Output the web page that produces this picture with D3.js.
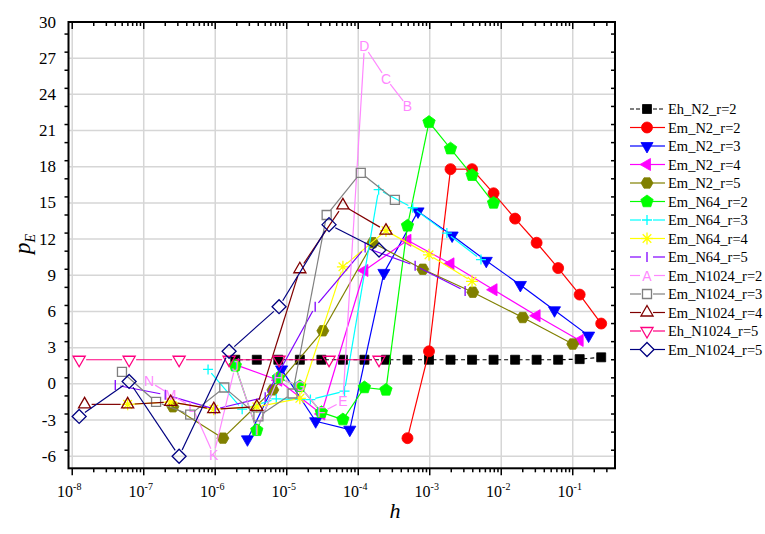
<!DOCTYPE html>
<html><head><meta charset="utf-8">
<script src="https://cdn.jsdelivr.net/npm/d3@7"></script>
<style>body{margin:0;background:#fff}svg{display:block}
.sf{font-family:"Liberation Serif","Times New Roman",Times,"DejaVu Serif",serif}</style>
</head><body><svg id="c" width="765" height="534"></svg>
<script>
// ---------- data ----------
const seriesNames = ["Eh_N2_r=2","Em_N2_r=2","Em_N2_r=3","Em_N2_r=4","Em_N2_r=5","Em_N64_r=2","Em_N64_r=3","Em_N64_r=4","Em_N64_r=5","Em_N1024_r=2","Em_N1024_r=3","Em_N1024_r=4","Eh_N1024_r=5","Em_N1024_r=5"];
const hEhN2r2 = [0.25,0.125,0.0625,0.03125,0.015625,0.0078125,0.00390625,0.001953125,9.765625e-4,4.8828125e-4,2.44140625e-4,1.2207031e-4,6.1035156e-5,3.0517578e-5,1.5258789e-5,7.6293945e-6,3.8146973e-6,1.9073486e-6];
const pEhN2r2 = [2.2,2.05,2,2,2,2,2,2,2,2,2,2,2,2,2,2,2,2];
const hEmN2r2 = [0.25,0.125,0.0625,0.03125,0.015625,0.0078125,0.00390625,0.001953125,9.765625e-4,4.8828125e-4];
const pEmN2r2 = [5.0,7.4,9.6,11.7,13.7,15.8,17.8,17.8,2.7,-4.5];
const hEmN2r3 = [0.16667,0.055556,0.0185185,0.0061728,0.0020576,6.8587e-4,2.2862e-4,7.6208e-5,2.5403e-5,8.4675e-6,2.8225e-6];
const pEmN2r3 = [4.0,6.1,8.2,10.2,12.3,14.3,9.2,-3.8,-3.1,1.2,-4.6];
const hEmN2r4 = [0.125,0.03125,7.8125e-3,1.953125e-3,4.8828e-4,1.2207e-4,3.0518e-5,7.6294e-6,1.9073e-6];
const pEmN2r4 = [3.6,5.65,7.8,9.95,11.9,9.4,-2.5,0.3,1.6];
const hEmN2r5 = [0.1,0.02,0.004,8e-4,1.6e-4,3.2e-5,6.4e-6,1.28e-6,2.56e-7];
const pEmN2r5 = [3.3,5.5,7.6,9.5,11.7,4.4,-0.5,-4.5,-1.9];
const hEmN64r2 = [7.8125e-3,3.90625e-3,1.953125e-3,9.765625e-4,4.8828125e-4,2.4414e-4,1.2207e-4,6.1035e-5,3.0518e-5,1.5259e-5,7.6294e-6,3.8147e-6,1.9073e-6];
const pEmN64r2 = [15.0,17.3,19.5,21.7,13.1,-0.5,-0.3,-2.96,-2.36,-0.2,0.5,-3.85,1.5];
const hEmN64r3 = [5.2083e-3,1.7361e-3,5.787e-4,1.929e-4,6.43e-5,2.1433e-5,7.144e-6,2.3815e-6,7.938e-7];
const pEmN64r3 = [10.3,12.5,14.6,16.1,-0.6,-1.3,-1.25,-2.1,1.2];
const hEmN64r4 = [3.90625e-3,9.765625e-4,2.4414e-4,6.1035e-5,1.5259e-5,3.8147e-6,9.5367e-7,2.3842e-7,5.9605e-8];
const pEmN64r4 = [8.5,10.7,12.7,9.7,-1.2,-1.9,-2.1,-1.5,-1.7];
const hEmN64r5 = [3.125e-3,6.25e-4,1.25e-4,2.5e-5,5e-6,1e-6,2e-7,4e-8];
const pEmN64r5 = [7.7,9.8,11.3,6.4,-1.1,-2.1,-0.9,-0.1];
const hEmN1024r2 = [4.8828125e-4,2.4414e-4,1.2207e-4,6.1035e-5,3.0518e-5,1.5259e-5,7.6294e-6,3.8147e-6,1.9073e-6,9.5367e-7,4.7684e-7,2.3842e-7,1.1921e-7];
const pEmN1024r2 = [23.0,25.3,28.0,-1.45,-2.36,-0.2,0.5,-3.85,1.5,-5.9,-1.9,-0.9,0.2];
const lEmN1024r2 = ["B","C","D","E","F","G","H","I","J","K","L","M","N"];
const hEmN1024r3 = [3.2552e-4,1.0851e-4,3.6169e-5,1.2056e-5,4.0188e-6,1.3396e-6,4.4653e-7,1.4884e-7,4.9614e-8];
const pEmN1024r3 = [15.25,17.5,14.0,-0.8,-2.7,-0.3,-2.55,-1.5,1.0];
const hEmN1024r4 = [2.4414e-4,6.1035e-5,1.5259e-5,3.8147e-6,9.5367e-7,2.3842e-7,5.9605e-8,1.4901e-8];
const pEmN1024r4 = [12.7,14.8,9.5,-1.9,-2.1,-1.5,-1.7,-1.7];
const hEhN1024r5 = [1.953125e-4,3.90625e-5,7.8125e-6,1.5625e-6,3.125e-7,6.25e-8,1.25e-8];
const pEhN1024r5 = [2,2,2,2,2,2,2];
const hEmN1024r5 = [1.953125e-4,3.90625e-5,7.8125e-6,1.5625e-6,3.125e-7,6.25e-8,1.25e-8];
const pEmN1024r5 = [11.1,13.2,6.4,2.7,-6.0,0.2,-2.7];
const yTicks = [-6,-3,0,3,6,9,12,15,18,21,24,27,30];
const xTickExps = [-8,-7,-6,-5,-4,-3,-2,-1];

// ---------- styles ----------
const styles = [
 {c:"#000000", m:"square", fill:true, dash:"4,3"},
 {c:"#ff0000", m:"circle", fill:true},
 {c:"#0000ff", m:"tdown", fill:true},
 {c:"#ff00ff", m:"tleft", fill:true},
 {c:"#808000", m:"hex", fill:true},
 {c:"#00ff00", m:"pent", fill:true},
 {c:"#00ffff", m:"plus", fill:false, gap:5},
 {c:"#ffff00", m:"star", fill:false, gap:5},
 {c:"#8000ff", m:"bar", fill:false, gap:5},
 {c:"#ff88ff", m:"letter", fill:false, gap:7},
 {c:"#808080", m:"square", fill:false, gap:6},
 {c:"#800000", m:"tup", fill:false, gap:7},
 {c:"#ff0080", m:"tdown", fill:false, gap:7},
 {c:"#000080", m:"diamond", fill:false, gap:7}
];
const hs = [hEhN2r2,hEmN2r2,hEmN2r3,hEmN2r4,hEmN2r5,hEmN64r2,hEmN64r3,hEmN64r4,hEmN64r5,hEmN1024r2,hEmN1024r3,hEmN1024r4,hEhN1024r5,hEmN1024r5];
const ps = [pEhN2r2,pEmN2r2,pEmN2r3,pEmN2r4,pEmN2r5,pEmN64r2,pEmN64r3,pEmN64r4,pEmN64r5,pEmN1024r2,pEmN1024r3,pEmN1024r4,pEhN1024r5,pEmN1024r5];

const svg = d3.select("#c");
const L = 68.5, R = 615, T = 22, B = 468.3;
const x = d3.scaleLog().domain([8.87e-9, 0.39]).range([L, R]);
const y = d3.scaleLinear().domain([-7, 30]).range([B, T]);

// grid
const g = svg.append("g");
xTickExps.forEach(e => g.append("line").attr("x1", x(Math.pow(10,e))).attr("x2", x(Math.pow(10,e)))
  .attr("y1", T).attr("y2", B).attr("stroke", "#d6d6d6").attr("stroke-width", 1.5));
yTicks.forEach(v => g.append("line").attr("x1", L).attr("x2", R).attr("y1", y(v)).attr("y2", y(v))
  .attr("stroke", "#d6d6d6").attr("stroke-width", 1.5));

// marker path
function poly(n, r, a0) {
  const pts = [];
  for (let i = 0; i < n; i++) { const a = a0 + i * 2 * Math.PI / n; pts.push([r*Math.cos(a), r*Math.sin(a)]); }
  return "M" + pts.map(p => p[0].toFixed(2) + "," + p[1].toFixed(2)).join("L") + "Z";
}
function markerPath(m) {
  switch (m) {
    case "square": return "M-4.5,-4.5H4.5V4.5H-4.5Z";
    case "circle": return d3.symbol(d3.symbolCircle, 95)();
    case "tdown": return poly(3, 7, Math.PI/2);
    case "tup": return poly(3, 7, -Math.PI/2);
    case "tleft": return poly(3, 7, Math.PI);
    case "hex": return poly(6, 6, 0);
    case "pent": return poly(5, 6.5, -Math.PI/2);
    case "diamond": return poly(4, 7, -Math.PI/2);
    case "plus": return "M-5,0H5M0,-5V5";
    case "star": return "M-6,0H6M0,-6V6M-4.3,-4.3L4.3,4.3M-4.3,4.3L4.3,-4.3";
    case "bar": return "M0,-5V5";
  }
}
function drawMarker(sel, st, px, py, label) {
  if (st.m === "letter") {
    sel.append("text").attr("x", px).attr("y", py + 5).attr("text-anchor", "middle")
      .style("font-family", "'Liberation Sans',Arial,sans-serif").attr("font-size", 14)
      .attr("fill", st.c).text(label);
    return;
  }
  const p = sel.append("path").attr("d", markerPath(st.m)).attr("transform", `translate(${px},${py})`);
  if (st.fill) p.attr("fill", st.c).attr("stroke", st.c).attr("stroke-width", 0.8);
  else if (["plus","star","bar"].includes(st.m)) p.attr("fill", "none").attr("stroke", st.c).attr("stroke-width", 1.3);
  else p.attr("fill", "#fff").attr("fill-opacity", 0).attr("stroke", st.c).attr("stroke-width", 1.3);
}

// series
const plot = svg.append("g");
hs.forEach((hArr, si) => {
  const st = styles[si];
  const pts = hArr.map((h, i) => [x(h), y(ps[si][i])]);
  const sg = plot.append("g");
  for (let i = 0; i < pts.length - 1; i++) {
    let [x1, y1] = pts[i], [x2, y2] = pts[i+1];
    const gap = st.gap || 0;
    const d = Math.hypot(x2 - x1, y2 - y1);
    if (d <= 2 * gap) continue;
    const ux = (x2 - x1) / d, uy = (y2 - y1) / d;
    const ln = sg.append("line").attr("x1", x1 + ux*gap).attr("y1", y1 + uy*gap)
      .attr("x2", x2 - ux*gap).attr("y2", y2 - uy*gap).attr("stroke", st.c).attr("stroke-width", 1.2);
    if (st.dash) ln.attr("stroke-dasharray", st.dash);
  }
  pts.forEach((p, i) => drawMarker(sg, st, p[0], p[1], si === 9 ? lEmN1024r2[i] : ""));
});

// frame
svg.append("rect").attr("x", L).attr("y", T).attr("width", R - L).attr("height", B - T)
  .attr("fill", "none").attr("stroke", "#000").attr("stroke-width", 2);

// y ticks
const ax = svg.append("g").attr("stroke", "#000").attr("stroke-width", 1.5);
for (let v = -7; v <= 30.001; v += 1.5) {
  if (v < -6.9) continue;
  const major = Math.abs(v % 3) < 1e-6;
  const len = major ? 8 : 4;
  ax.append("line").attr("x1", L - len).attr("x2", L).attr("y1", y(v)).attr("y2", y(v));
  ax.append("line").attr("x1", R - len).attr("x2", R).attr("y1", y(v)).attr("y2", y(v));
}
yTicks.forEach(v => svg.append("text").attr("class", "sf").attr("x", 56).attr("y", y(v) + 5.5).attr("text-anchor", "end")
  .attr("font-size", 17).text(v));

// x ticks
for (let e = -9; e <= 0; e++) {
  for (let k = 1; k <= 9; k++) {
    const v = k * Math.pow(10, e);
    const px = x(v);
    if (px < L + 1 || px > R - 0.5) continue;
    const len = k === 1 ? 7 : 4;
    ax.append("line").attr("x1", px).attr("x2", px).attr("y1", B).attr("y2", B + len);
    ax.append("line").attr("x1", px).attr("x2", px).attr("y1", T).attr("y2", T + len);
  }
}
xTickExps.forEach(e => {
  const t = svg.append("text").attr("class", "sf").attr("x", x(Math.pow(10,e)) - 3).attr("y", 497).attr("text-anchor", "middle")
    .attr("font-size", 16);
  t.append("tspan").text("10");
  t.append("tspan").attr("dy", -7).attr("font-size", 10).text(String(e));
});

// axis titles
svg.append("text").attr("class", "sf").attr("x", 395).attr("y", 518).attr("text-anchor", "middle")
  .attr("font-style", "italic").attr("font-size", 22).text("h");
const yt = svg.append("text").attr("class", "sf").attr("transform", "translate(30,244) rotate(-90)").attr("text-anchor", "middle")
  .attr("font-style", "italic").attr("font-size", 23);
yt.append("tspan").text("p");
yt.append("tspan").attr("dy", 5).attr("font-size", 14).text("E");

// legend
const lg = svg.append("g");
seriesNames.forEach((name, i) => {
  const st = styles[i];
  const ly = 109 + i * 18.5;
  const gap = st.fill ? 0 : (st.m === "letter" ? 7 : 6);
  const l1 = lg.append("line").attr("x1", 630).attr("x2", 647 - gap).attr("y1", ly).attr("y2", ly)
    .attr("stroke", st.c).attr("stroke-width", 1.2);
  const l2 = lg.append("line").attr("x1", 647 + gap).attr("x2", 665).attr("y1", ly).attr("y2", ly)
    .attr("stroke", st.c).attr("stroke-width", 1.2);
  if (st.dash) { l1.attr("stroke-dasharray", "4,2"); l2.attr("stroke-dasharray", "4,2"); }
  drawMarker(lg, st, 647, ly, "A");
  lg.append("text").attr("class", "sf").attr("x", 668).attr("y", ly + 5).attr("font-size", 14.5).text(name);
});
</script></body></html>
